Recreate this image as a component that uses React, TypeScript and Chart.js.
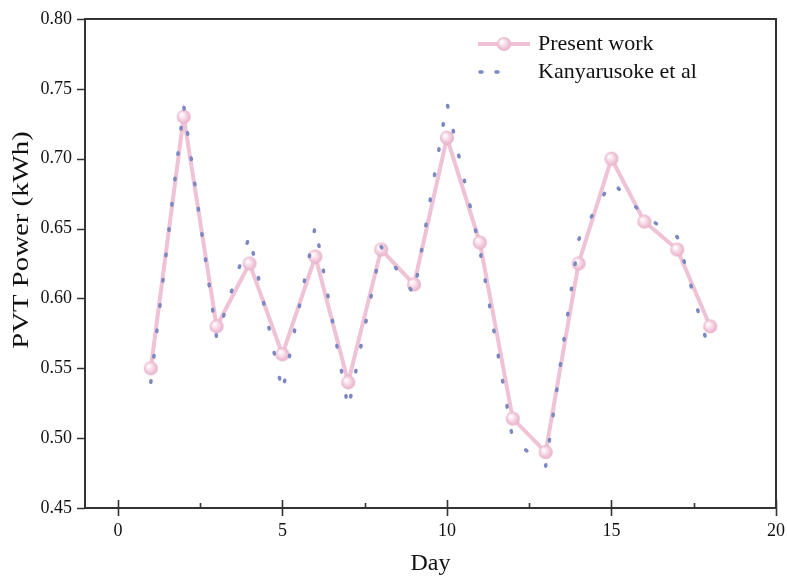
import { useEffect, useRef } from "react";
import { Chart, registerables } from "chart.js";

Chart.register(...registerables);

const days = [1, 2, 3, 4, 5, 6, 7, 8, 9, 10, 11, 12, 13, 14, 15, 16, 17, 18];
const presentWork = [0.55, 0.73, 0.58, 0.625, 0.56, 0.63, 0.54, 0.635, 0.61, 0.715, 0.64, 0.514, 0.49, 0.625, 0.7, 0.655, 0.635, 0.58];
const kanyarusoke = [0.54, 0.738, 0.572, 0.645, 0.533, 0.652, 0.521, 0.637, 0.603, 0.74, 0.635, 0.499, 0.48, 0.642, 0.684, 0.659, 0.644, 0.56];
const xTicks = [0, 5, 10, 15, 20];
const xMinorTicks = [2.5, 7.5, 12.5, 17.5];
const yTicks = [0.45, 0.5, 0.55, 0.6, 0.65, 0.7, 0.75, 0.8];
const seriesNames = ["Present work", "Kanyarusoke et al"];
const axisTitles = { x: "Day", y: "PVT Power (kWh)" };

const FONT = '"Liberation Serif", "Times New Roman", serif';
const PINK = "rgb(240, 194, 214)";
const BLUE = "rgb(122, 135, 194)";
const AXIS = "#333333";

function makeSphere(r: number): HTMLCanvasElement {
  const c = document.createElement("canvas");
  const s = Math.ceil(r * 2 + 2);
  c.width = s;
  c.height = s;
  const g = c.getContext("2d")!;
  const cx = s / 2;
  const cy = s / 2;
  const grad = g.createRadialGradient(cx - r * 0.35, cy - r * 0.35, 0.5, cx, cy, r);
  grad.addColorStop(0, "rgb(255,255,255)");
  grad.addColorStop(0.35, "rgb(250,228,238)");
  grad.addColorStop(0.8, "rgb(238,190,211)");
  grad.addColorStop(1, "rgb(228,176,200)");
  g.fillStyle = grad;
  g.beginPath();
  g.arc(cx, cy, r, 0, Math.PI * 2);
  g.fill();
  return c;
}

export default function App() {
  const ref = useRef<HTMLCanvasElement | null>(null);

  useEffect(() => {
    document.body.style.margin = "0";
    const canvas = ref.current;
    if (!canvas) return;
    const sphere = makeSphere(7);

    const decorPlugin = {
      id: "decor",
      afterDraw(chart: any) {
        const { ctx, chartArea } = chart;
        const { left, right, top, bottom } = chartArea;
        const xs = chart.scales.x;
        const ys = chart.scales.y;
        ctx.save();
        ctx.strokeStyle = AXIS;
        ctx.lineCap = "butt";
        ctx.lineWidth = 2;
        ctx.beginPath();
        ctx.moveTo(left, top);
        ctx.lineTo(right, top);
        ctx.lineTo(right, bottom);
        ctx.stroke();

        ctx.lineWidth = 1.6;
        ctx.beginPath();
        xTicks.forEach((v) => {
          const px = Math.round(xs.getPixelForValue(v)) + 0.5;
          ctx.moveTo(px, bottom - 8);
          ctx.lineTo(px, bottom + 8);
        });
        xMinorTicks.forEach((v) => {
          const px = Math.round(xs.getPixelForValue(v)) + 0.5;
          ctx.moveTo(px, bottom - 5);
          ctx.lineTo(px, bottom);
        });
        yTicks.forEach((v) => {
          const py = Math.round(ys.getPixelForValue(v)) + 0.5;
          ctx.moveTo(left - 8, py);
          ctx.lineTo(left, py);
        });
        ctx.stroke();

        // y axis title
        ctx.save();
        ctx.fillStyle = "#111";
        ctx.font = `24px ${FONT}`;
        ctx.textAlign = "center";
        ctx.textBaseline = "middle";
        ctx.translate(22, 240);
        ctx.rotate(-Math.PI / 2);
        ctx.scale(1.2, 1);
        ctx.fillText(axisTitles.y, 0, 0);
        ctx.restore();

        // legend
        const lx0 = 478;
        const lx1 = 530;
        const ly1 = 44;
        const ly2 = 72;
        ctx.strokeStyle = PINK;
        ctx.lineWidth = 4;
        ctx.beginPath();
        ctx.moveTo(lx0, ly1);
        ctx.lineTo(lx1, ly1);
        ctx.stroke();
        ctx.drawImage(sphere, (lx0 + lx1) / 2 - sphere.width / 2, ly1 - sphere.height / 2);
        ctx.strokeStyle = BLUE;
        ctx.lineWidth = 3.5;
        ctx.lineCap = "round";
        ctx.beginPath();
        [481, 497].forEach((px) => {
          ctx.moveTo(px - 1, ly2);
          ctx.lineTo(px + 1, ly2);
        });
        ctx.stroke();
        ctx.fillStyle = "#111";
        ctx.font = `22px ${FONT}`;
        ctx.textBaseline = "middle";
        ctx.textAlign = "left";
        ctx.fillText(seriesNames[0], 538, ly1);
        ctx.fillText(seriesNames[1], 538, ly2);
        ctx.restore();
      },
    };

    const chart = new Chart(canvas, {
      type: "line",
      data: {
        datasets: [
          {
            label: seriesNames[0],
            data: days.map((d, i) => ({ x: d, y: presentWork[i] })),
            borderColor: PINK,
            borderWidth: 4,
            pointStyle: sphere as any,
            pointRadius: 7,
            order: 2,
          },
          {
            label: seriesNames[1],
            data: days.map((d, i) => ({ x: d, y: kanyarusoke[i] })),
            borderColor: BLUE,
            borderWidth: 3.5,
            borderDash: [1.5, 24],
            borderCapStyle: "round",
            borderJoinStyle: "round",
            pointRadius: 0,
            order: 1,
          },
        ],
      },
      options: {
        animation: false,
        responsive: true,
        maintainAspectRatio: false,
        layout: { padding: { left: 0, top: 19, right: 9, bottom: 0 } },
        plugins: { legend: { display: false }, tooltip: { enabled: false } },
        scales: {
          x: {
            type: "linear",
            min: -1,
            max: 20,
            afterBuildTicks: (s: any) => {
              s.ticks = xTicks.map((v) => ({ value: v }));
            },
            afterFit: (s: any) => {
              s.height = 71;
              s.paddingLeft = 0;
              s.paddingRight = 0;
            },
            grid: { display: false, drawTicks: false },
            border: { display: true, color: AXIS, width: 2 },
            ticks: {
              color: "#111",
              font: { family: FONT, size: 18 },
              padding: 12,
              maxRotation: 0,
              callback: (v: any) => String(v),
            },
            title: {
              display: true,
              text: axisTitles.x,
              color: "#111",
              font: { family: FONT, size: 24 },
              padding: { top: 0, bottom: 1 },
            },
          },
          y: {
            type: "linear",
            min: 0.45,
            max: 0.8,
            afterBuildTicks: (s: any) => {
              s.ticks = yTicks.map((v) => ({ value: v }));
            },
            afterFit: (s: any) => {
              s.width = 85;
              s.paddingTop = 0;
              s.paddingBottom = 0;
            },
            grid: { display: false, drawTicks: false },
            border: { display: true, color: AXIS, width: 2 },
            ticks: {
              color: "#111",
              font: { family: FONT, size: 18 },
              padding: 13,
              callback: (v: any) => Number(v).toFixed(2),
            },
            title: { display: false },
          },
        },
      },
      plugins: [decorPlugin],
    });
    return () => chart.destroy();
  }, []);

  return (
    <div style={{ position: "fixed", left: 0, top: 0, width: 787, height: 579, background: "#fff" }}>
      <canvas ref={ref} />
    </div>
  );
}
